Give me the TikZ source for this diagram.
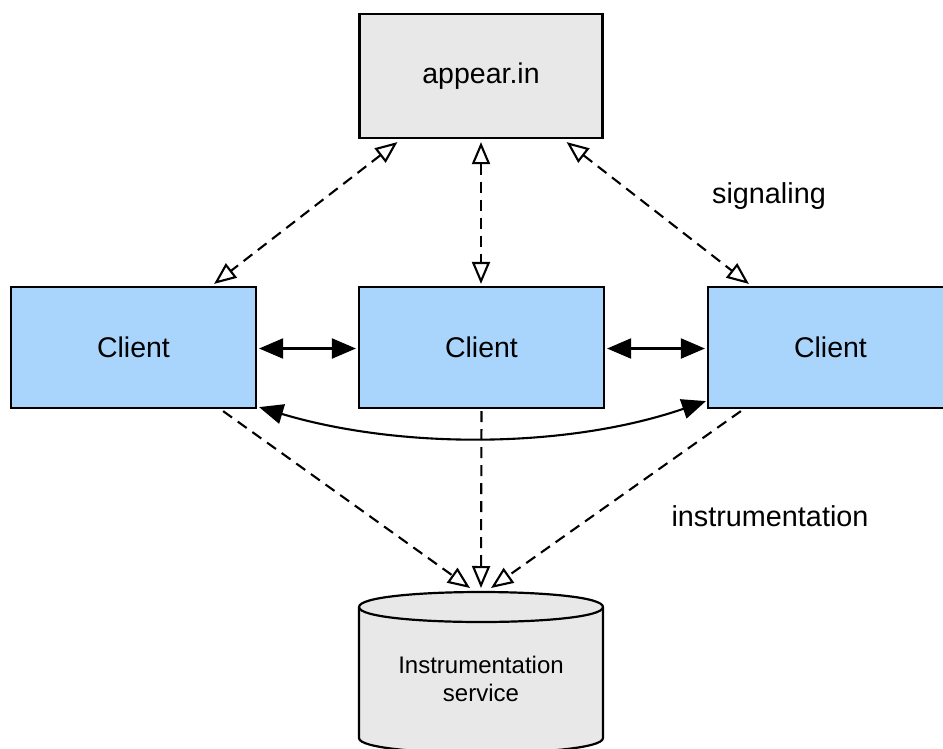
\documentclass[tikz,border=0pt]{standalone}
\usepackage{fontspec}
\setmainfont{Liberation Sans}
\usetikzlibrary{arrows.meta,calc}
\definecolor{clientblue}{HTML}{A9D5FD}
\definecolor{boxgray}{HTML}{E8E8E8}
\begin{document}
\begin{tikzpicture}[x=1pt,y=-1pt,
  box/.style={draw, line width=2.2pt, minimum width=243pt, minimum height=122pt,
    font=\fontsize{28.5}{34}\selectfont, inner sep=0pt},
  client/.style={box, fill=clientblue, minimum width=245pt, minimum height=121pt},
  lbl/.style={font=\fontsize{28.8}{34}\selectfont, inner sep=0pt},
  sig/.style={line width=2.1pt, dash pattern=on 11pt off 7pt,
    arrows={Triangle[open,length=22pt,width=18pt]-Triangle[open,length=22pt,width=18pt]}},
  inst/.style={line width=2.1pt, dash pattern=on 11pt off 7pt,
    arrows={-Triangle[open,length=22pt,width=18pt]}},
  dbl/.style={line width=2.1pt,
    arrows={Triangle[length=24pt,width=20pt]-Triangle[length=24pt,width=20pt]}}
]
\useasboundingbox (0,0) rectangle (943,748);

% boxes
\node[box, fill=boxgray, minimum height=124pt] (app) at (481,76) {appear.in};
\node[client] (c1) at (133.5,347.5) {Client};
\node[client] (c2) at (481.5,347.5) {Client};
\node[client] (c3) at (830.5,347.5) {Client};

% cylinder
\draw[line width=2.2pt, fill=boxgray] (359,607) -- (359,738)
  .. controls (359,758) and (603,758) .. (603,738) -- (603,607)
  .. controls (603,587) and (359,587) .. (359,607) -- cycle;
\draw[line width=2.2pt] (359,607) .. controls (359,627) and (603,627) .. (603,607);
\coordinate (dbtop) at (481,592);
\node[align=center, font=\fontsize{24}{28.5}\selectfont, inner sep=0pt] (db) at (481,679)
  {Instrumentation\\service};

% labels
\node[lbl] (siglbl) at (769,196) {signaling};
\node[lbl] (instlbl) at (770,516) {instrumentation};

% signaling connectors
\draw[sig] ($(app.south west)+(39,3)$) -- ($(c1.north east)+(-43,-2)$);
\draw[sig] ($(app.south)+(0,3)$) -- ($(c2.north)+(-0.5,-2)$);
\draw[sig] ($(app.south east)+(-37,3)$) -- ($(c3.north west)+(42,-2)$);

% client-to-client
\draw[dbl] ($(c1.east)+(2,1)$) -- ($(c2.west)+(-2,1)$);
\draw[dbl] ($(c2.east)+(2,1)$) -- ($(c3.west)+(-2,1)$);
\draw[dbl] ($(c1.south east)+(2,-2)$) .. controls +(140,42) and +(-140,48) .. ($(c3.south west)+(-1,-8)$);

% instrumentation connectors
\draw[inst] ($(c1.south east)+(-34,2)$) -- ($(dbtop)+(-11,-4)$);
\draw[inst] ($(c2.south)+(0,2)$) -- ($(dbtop)+(0,-4)$);
\draw[inst] ($(c3.south west)+(34,2)$) -- ($(dbtop)+(10,-4)$);
\end{tikzpicture}
\end{document}
